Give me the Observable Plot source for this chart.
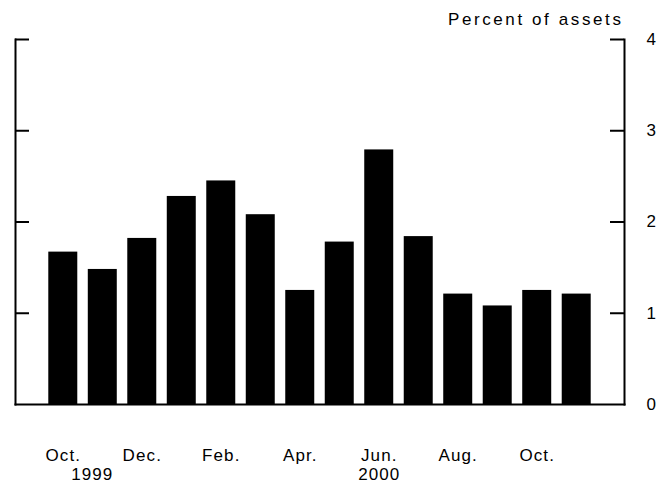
<!DOCTYPE html>
<html>
<head>
<meta charset="utf-8">
<script src="https://cdn.jsdelivr.net/npm/d3@7"></script>
<script src="https://cdn.jsdelivr.net/npm/@observablehq/plot@0.6"></script>
<style>
  html, body { margin: 0; padding: 0; background: #fff; }
  #chart { width: 670px; height: 484px; }
</style>
</head>
<body>
<div id="chart"></div>
<script>
// ---- data ----
const months = ["1999-10","1999-11","1999-12","2000-01","2000-02","2000-03","2000-04",
                "2000-05","2000-06","2000-07","2000-08","2000-09","2000-10","2000-11"];
const values = [1.67, 1.48, 1.82, 2.28, 2.45, 2.08, 1.25, 1.78, 2.79, 1.84, 1.21, 1.08, 1.25, 1.21];
const monthLabels = ["Oct.","","Dec.","","Feb.","","Apr.","","Jun.","","Aug.","","Oct.",""];
const yearKeys = ["1999-10", "2000-06"];
const yearLabels = ["1999", "2000"];
const yearShift = [29, 0];
const yTicks = [0, 1, 2, 3, 4];
const unitTitle = "Percent of assets";

const bars = months.map((m, i) => ({month: m, value: values[i], label: monthLabels[i]}));
const years = yearKeys.map((m, i) => ({month: m, label: yearLabels[i]}));

const W = 670, H = 484;
const mL = 15, mR = 46, mT = 39, mB = 80;
const innerW = W - mL - mR;
const tickLen = 14;

const plot = Plot.plot({
  width: W,
  height: H,
  marginLeft: mL,
  marginRight: mR,
  marginTop: mT,
  marginBottom: mB,
  style: {fontFamily: "'Liberation Sans', Arial, Helvetica, sans-serif", fontSize: "17px", letterSpacing: "1.1px", color: "#000", background: "#fff"},
  x: {type: "band", domain: months, paddingInner: 0.266, paddingOuter: 0.843, round: false, axis: null},
  y: {domain: [0, 4]},
  marks: [
    Plot.barY(bars, {x: "month", y: "value", fill: "#000"}),
    Plot.frame({anchor: "left", stroke: "#000", strokeWidth: 2}),
    Plot.frame({anchor: "right", stroke: "#000", strokeWidth: 2}),
    Plot.frame({anchor: "bottom", stroke: "#000", strokeWidth: 2}),
    Plot.ruleY(yTicks.filter(d => d > 0), {stroke: "#000", strokeWidth: 2, insetRight: innerW - tickLen}),
    Plot.ruleY(yTicks.filter(d => d > 0), {stroke: "#000", strokeWidth: 2, insetLeft: innerW - tickLen}),
    Plot.axisY({anchor: "right", ticks: yTicks, tickSize: 0, tickPadding: 22, fontSize: 17, label: null, tickFormat: d => String(d)}),
    Plot.text(bars.filter(d => d.label), {x: "month", text: "label", frameAnchor: "bottom", lineAnchor: "bottom", dy: 56, fontSize: 17}),
    Plot.text(years, {x: "month", text: "label", frameAnchor: "bottom", lineAnchor: "bottom", dy: 75, fontSize: 17}),
    Plot.text([unitTitle], {frameAnchor: "top-right", textAnchor: "end", lineAnchor: "bottom", dy: -15, dx: -1, fontSize: 17})
  ]
});

// style adjustments: shift the 1999 label, widen the unit title
d3.select(plot).selectAll("text").each(function() {
  const t = this.textContent;
  const idx = yearLabels.indexOf(t);
  if (idx >= 0 && yearShift[idx]) {
    const cur = this.getAttribute("transform") || "";
    this.setAttribute("transform", cur + ` translate(${yearShift[idx]},0)`);
  }
  if (t === unitTitle) this.style.letterSpacing = "2.6px";
});

document.getElementById("chart").appendChild(plot);
</script>
</body>
</html>
